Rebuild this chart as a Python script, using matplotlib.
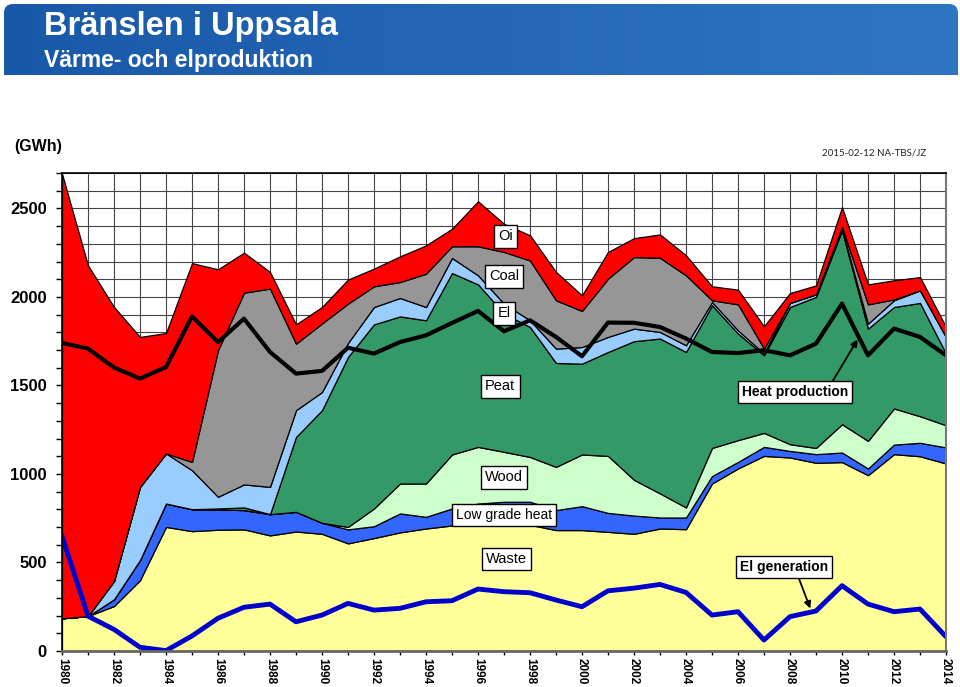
import numpy as np
import matplotlib
matplotlib.use("Agg")
import matplotlib.pyplot as plt
from matplotlib.patches import FancyBboxPatch
from matplotlib.colors import LinearSegmentedColormap

plt.rcParams['font.family'] = ['Liberation Sans', 'DejaVu Sans']

# ----
# Data (GWh)
# ----
years = list(range(1980, 2015))

waste = [185, 197, 254, 400, 701, 677, 685, 687, 653, 675,
         662, 608, 638, 670, 692, 709, 715, 711, 713, 683,
         683, 673, 662, 692, 688, 946, 1031, 1102, 1093, 1063,
         1067, 993, 1112, 1100, 1059]
low_grade_heat = [0, 0, 38, 114, 132, 124, 115, 109, 120, 111,
                  62, 79, 67, 107, 66, 96, 118, 132, 130, 113,
                  135, 107, 103, 62, 66, 42, 37, 51, 37, 49,
                  54, 38, 54, 76, 91]
wood = [0, 0, 0, 0, 0, 0, 0, 0, 0, 0,
        0, 14, 100, 169, 188, 305, 320, 282, 253, 244,
        292, 322, 202, 136, 57, 159, 123, 79, 38, 35,
        160, 156, 204, 150, 125]
peat = [0, 0, 0, 0, 0, 0, 5, 15, 0, 423,
        636, 960, 1040, 944, 922, 1025, 918, 781, 734, 587,
        513, 587, 783, 875, 878, 806, 602, 438, 775, 853,
        1095, 634, 573, 640, 405]
el = [0, 0, 103, 413, 283, 220, 66, 130, 154, 151,
      103, 79, 98, 104, 75, 85, 51, 56, 38, 81,
      94, 85, 71, 37, 38, 18, 18, 10, 23, 15,
      9, 28, 38, 71, 94]
coal = [0, 0, 0, 0, 0, 47, 828, 1083, 1120, 376,
        387, 222, 117, 90, 188, 66, 164, 292, 338, 273,
        204, 329, 404, 419, 395, 10, 147, 28, 0, 0,
        10, 109, 5, 0, 0]
oil = [2511, 1981, 1548, 847, 680, 1123, 457, 226, 94, 109,
       93, 136, 100, 145, 160, 99, 254, 159, 142, 160,
       88, 151, 107, 132, 113, 79, 83, 126, 56, 50,
       112, 113, 108, 75, 56]

heat_production = [1740, 1708, 1601, 1539, 1604, 1890, 1745, 1877, 1689, 1567,
                   1582, 1713, 1680, 1745, 1783, 1853, 1921, 1806, 1868, 1774,
                   1665, 1855, 1854, 1830, 1765, 1689, 1683, 1699, 1670, 1736,
                   1962, 1670, 1821, 1774, 1670]
el_generation = [649, 197, 122, 21, 2, 85, 185, 247, 265, 165,
                 203, 269, 231, 241, 278, 284, 350, 335, 329, 288,
                 250, 340, 355, 376, 331, 203, 222, 62, 194, 226,
                 369, 265, 222, 237, 81]

layer_colors = ["#FFFF99", "#3366FF", "#CCFFCC", "#339966", "#99CCFF", "#969696", "#FF0000"]

W, H = 960, 687
fig = plt.figure(figsize=(W / 100, H / 100), dpi=100)

# ----
# Blue header banner (pixel coordinates inside its own axes)
# ----
bw, bh = 954, 71
bax = fig.add_axes([4 / W, 1 - 75 / H, bw / W, bh / H])
grad = np.linspace(0, 1, 256).reshape(1, -1)
cmap = LinearSegmentedColormap.from_list("hdr", ["#1858A8", "#2F76C2"])
img = bax.imshow(grad, aspect="auto", cmap=cmap, extent=(0, bw, 0, bh))
clip = FancyBboxPatch((0, -20), bw, bh + 20, boxstyle="round,pad=0,rounding_size=9",
                      fc="none", ec="none", transform=bax.transData)
bax.add_patch(clip)
img.set_clip_path(clip)
bax.set_xlim(0, bw)
bax.set_ylim(0, bh)
bax.axis("off")

fig.text(44 / W, 1 - 27 / H, "Bränslen i Uppsala", color="white", fontsize=23.5,
         fontweight="bold", va="center", ha="left")
fig.text(44 / W, 1 - 60 / H, "Värme- och elproduktion", color="white", fontsize=16.5,
         fontweight="bold", va="center", ha="left")
fig.text(14 / W, 1 - 147 / H, "(GWh)", fontsize=11.5, fontweight="bold", va="center", ha="left")
fig.text(926 / W, 1 - 153 / H, "2015-02-12 NA-TBS/JZ", fontsize=7, family=["Lato", "DejaVu Sans"],
         va="center", ha="right", color="#222222")

# ----
# Main chart
# ----
ax = fig.add_axes([62 / W, 36 / H, 884 / W, 478 / H])
ax.stackplot(years, waste, low_grade_heat, wood, peat, el, coal, oil,
             colors=layer_colors, edgecolor="black", linewidth=0.9, zorder=2)
ax.plot(years, heat_production, color="black", linewidth=3, zorder=3)
ax.plot(years, el_generation, color="#0000CC", linewidth=3.5, zorder=3)

ax.set_xlim(1980, 2014)
ax.set_ylim(0, 2700)
ax.set_xticks(range(1980, 2015, 2))
ax.set_xticks(range(1980, 2015), minor=True)
ax.set_yticks(range(0, 2501, 500))
ax.set_yticks(range(0, 2701, 100), minor=True)
ax.grid(True, which="both", color="#444444", linewidth=0.8, zorder=0)
ax.set_axisbelow(True)
ax.set_xticklabels([str(y) for y in range(1980, 2015, 2)], rotation=-90,
                   fontsize=8.5, fontweight="bold")
ax.set_yticklabels([str(v) for v in range(0, 2501, 500)], fontsize=12, fontweight="bold")
ax.tick_params(axis="y", which="both", length=4, width=1, pad=7, direction="out")
ax.tick_params(axis="x", which="both", length=3, width=1, pad=2, direction="out")
for side in ["left", "top"]:
    ax.spines[side].set_color("black")
    ax.spines[side].set_linewidth(1.2)
ax.spines["bottom"].set_color("#666666")
ax.spines["bottom"].set_linewidth(2)
ax.spines["right"].set_color("#777777")
ax.spines["right"].set_linewidth(1.5)
for sp in ax.spines.values():
    sp.set_zorder(4)

box = dict(boxstyle="square,pad=0.3", fc="white", ec="black", lw=1)
ax.text(1997.05, 2342, "Oi", fontsize=10.5, ha="center", va="center", bbox=box, zorder=5)
ax.text(1997.0, 2116, "Coal", fontsize=10.5, ha="center", va="center", bbox=box, zorder=5)
ax.text(1997.0, 1907, "El", fontsize=10.5, ha="center", va="center", bbox=box, zorder=5)
ax.text(1996.85, 1495, "Peat", fontsize=10.5, ha="center", va="center", bbox=box, zorder=5)
ax.text(1997.0, 982, "Wood", fontsize=10.5, ha="center", va="center", bbox=box, zorder=5)
ax.text(1997.0, 767, "Low grade heat", fontsize=10, ha="center", va="center", bbox=box, zorder=5)
ax.text(1997.1, 519, "Waste", fontsize=10.5, ha="center", va="center", bbox=box, zorder=5)

ax.annotate("Heat production", xy=(2010.6, 1760), xytext=(2008.2, 1462),
            fontsize=10, fontweight="bold", ha="center", va="center", bbox=box, zorder=5,
            arrowprops=dict(arrowstyle="-|>", color="black", lw=1.3, relpos=(0.83, 1.0),
                            shrinkA=0, shrinkB=0, mutation_scale=10))
ax.annotate("El generation", xy=(2008.78, 240), xytext=(2007.77, 474),
            fontsize=10, fontweight="bold", ha="center", va="center", bbox=box, zorder=5,
            arrowprops=dict(arrowstyle="-|>", color="black", lw=1.3, relpos=(0.65, 0.0),
                            shrinkA=0, shrinkB=0, mutation_scale=10))

fig.savefig("out.png", dpi=100)
